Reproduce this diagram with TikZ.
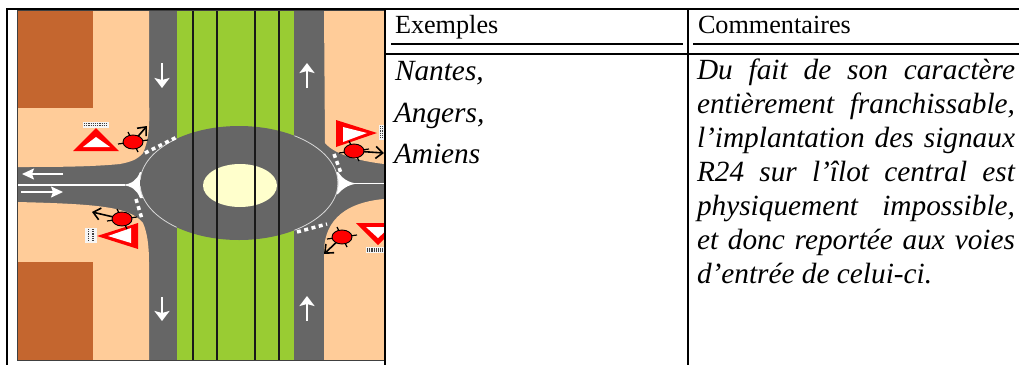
\documentclass[tikz,border=0pt]{standalone}
\usepackage{fontspec}
\setmainfont{Liberation Serif}
\usetikzlibrary{arrows.meta}
\definecolor{beige}{HTML}{FFCC99}
\definecolor{brick}{HTML}{C4662F}
\definecolor{verge}{HTML}{99CC33}
\definecolor{asphalt}{HTML}{666666}
\definecolor{islet}{HTML}{FFFFCC}
\newcommand{\justline}[1]{\hbox to 318bp{\spaceskip=0.2em plus 1fil\relax #1}}
\newcommand{\dashmark}[2]{\draw[yieldline] (#1) -- (#2);}
\newcommand{\walker}[5]{% centre x,y ; tip x,y ; name
  \coordinate (#5c) at (#1,#2);
  \coordinate (#5t) at (#3,#4);
  \draw[tick] (#1-15,#2+2) -- (#1+15,#2-2);
  \draw[tick] (#1-5,#2-10) -- (#1+5,#2+10);
  \draw[walkarrow] (#5c) -- (#5t);
  \fill[red,draw=black,line width=.9bp] (#5c) ellipse [x radius=10bp,y radius=7bp];
}
\newcommand{\yieldsign}[2]{%
  \fill[red] #1 -- cycle;
  \fill[white] #2 -- cycle;
}
\newcommand{\plaqueh}[4]{%
  \fill[white!92!gray] (#1,#2) rectangle (#3,#4);
  \draw[plaquedots] (#1+1,#2*.68+#4*.32) -- (#3-1,#2*.68+#4*.32);
  \draw[plaquedots] (#1+1,#2*.32+#4*.68) -- (#3-1,#2*.32+#4*.68);
}
\newcommand{\plaquev}[4]{%
  \fill[white!92!gray] (#1,#2) rectangle (#3,#4);
  \draw[plaquedots] (#1*.68+#3*.32,#2+1) -- (#1*.68+#3*.32,#4-1);
  \draw[plaquedots] (#1*.32+#3*.68,#2+1) -- (#1*.32+#3*.68,#4-1);
}
\tikzset{
  x=1bp,y=-1bp,
  frame/.style={black,line width=2bp},
  thinframe/.style={black!75,line width=.8bp},
  tree/.style={black!90,line width=1.2bp},
  whitearrow/.style={white,line width=2.8bp,-{Stealth[length=10bp,width=15bp,inset=2bp]}},
  sidearrow/.style={white,line width=1.6bp,-{Stealth[length=12bp,width=11bp,inset=2bp]}},
  yieldline/.style={white,line width=3.5bp,dash pattern=on 4bp off 3.5bp},
  walkarrow/.style={black,line width=1.6bp,-{Straight Barb[length=7bp,width=12bp]}},
  tick/.style={black,line width=1.2bp},
  plaquedots/.style={black!75,line width=1.4bp,dash pattern=on 1.2bp off 1bp},
  cell/.style={font=\fontsize{26.2bp}{30bp}\selectfont,anchor=base west,inner sep=0pt,outer sep=0pt},
  celli/.style={cell,font=\fontsize{29.3bp}{34bp}\selectfont\itshape},
  ring/.style={white!70!gray,line width=.8bp},
}
\begin{document}
\begin{tikzpicture}
\useasboundingbox (0,0) rectangle (1019,365);
\fill[white] (0,0) rectangle (1019,365);
\begin{scope}
\clip (17,10) rectangle (384,360);
\fill[asphalt] (17,10) rectangle (384,360);
\fill[verge] (177,10) rectangle (294,360);
% corners
\fill[beige] (17,10) -- (149,10) -- (149,100) .. controls (150,125) and (149,140) .. (143,153)
  .. controls (137,160) and (130,162) .. (120,164) .. controls (90,167) and (50,167) .. (17,167) -- cycle;
\fill[beige] (17,360) -- (149,360) -- (149,262) .. controls (149,245) and (147,232) .. (143,223)
  .. controls (130,207) and (100,204) .. (17,202) -- cycle;
\fill[beige] (324,10) -- (384,10) -- (384,164) .. controls (360,161) and (335,155) .. (325,143) -- cycle;
\fill[beige] (384,360) -- (324,360) -- (324,255) .. controls (323,225) and (340,203) .. (384,199) -- cycle;
\fill[brick] (17,10) rectangle (93,108);
\fill[brick] (17,262) rectangle (93,360);
% splitters
\draw[white,line width=1.5bp] (17,185) -- (125,185);
\fill[white] (122,185) .. controls (132,184) and (137,180) .. (140,172) -- (146,172) -- (146,198) -- (140,198) .. controls (137,190) and (132,186) .. cycle;
\draw[white,line width=1.5bp] (355,183.5) -- (384,183.5);
\fill[white] (358,183.5) .. controls (348,183) and (342,178) .. (338,172) -- (330,172) -- (330,196) -- (338,194) .. controls (342,189) and (348,184.5) .. cycle;
% roundabout
\fill[asphalt] (239,183) ellipse [x radius=99bp,y radius=57bp];
\draw[ring] plot[domain=129:177,samples=30] ({239+99*cos(\x)},{183-57*sin(\x)});
\draw[ring] plot[domain=183:231,samples=30] ({239+99*cos(\x)},{183-57*sin(\x)});
\draw[ring] plot[domain=56:-3,samples=30] ({239+99*cos(\x)},{183-57*sin(\x)});
\draw[ring] plot[domain=-56:3,samples=30] ({239+99*cos(\x)},{183-57*sin(\x)});
\fill[islet] (240,185.5) ellipse [x radius=37bp,y radius=21.5bp];
% tram lines
\foreach \tx in {193,217,255,279} \draw[tree] (\tx,10) -- (\tx,360);
% give-way marks
\coordinate (ya) at (145,153); \coordinate (yb) at (177,137);
\dashmark{ya}{yb}
\coordinate (yc) at (136,199); \coordinate (yd) at (142,219);
\dashmark{yc}{yd}
\coordinate (ye) at (334,154); \coordinate (yf) at (341,173);
\dashmark{ye}{yf}
\coordinate (yg) at (297,232); \coordinate (yh) at (327,224);
\dashmark{yg}{yh}
% arrows
\coordinate (a1) at (162,63); \coordinate (a2) at (162,88);
\draw[whitearrow] (a1) -- (a2);
\coordinate (a3) at (162,297); \coordinate (a4) at (162,321);
\draw[whitearrow] (a3) -- (a4);
\coordinate (a5) at (307,88); \coordinate (a6) at (307,63);
\draw[whitearrow] (a5) -- (a6);
\coordinate (a7) at (307,321); \coordinate (a8) at (307,296);
\draw[whitearrow] (a7) -- (a8);
\coordinate (a9) at (63,174); \coordinate (a10) at (22,174);
\draw[sidearrow] (a9) -- (a10);
\coordinate (a11) at (21,192); \coordinate (a12) at (63,192);
\draw[sidearrow] (a11) -- (a12);
% signs
\yieldsign{(73,151) -- (119,151) -- (96,128)}{(83,147) -- (110,147) -- (96,137)}
\plaqueh{83}{122}{109}{127.5}
\yieldsign{(97,236) -- (138,223) -- (138,249)}{(108,236) -- (131,228) -- (131,243)}
\plaquev{85}{228}{96.5}{243}
\yieldsign{(336,120) -- (336,147) -- (377,133)}{(343,127) -- (343,142) -- (367,133)}
\plaquev{379}{125}{384}{140}
\yieldsign{(356,223) -- (400,223) -- (378,245)}{(366,227) -- (390,227) -- (378,238)}
\plaqueh{366}{247}{384}{253}
% people
\walker{133}{142}{147}{126}{pa}
\walker{122}{219}{92}{212}{pb}
\walker{354}{151}{384}{153}{pc}
\walker{342}{237}{324}{254}{pd}
\end{scope}
\draw[thinframe] (17,10) rectangle (384,360);
% table rules
\draw[frame] (6.5,9) -- (1019,9);
\draw[frame] (7,8) -- (7,365);
\draw[frame] (385,8) -- (385,365);
\draw[frame] (688,8) -- (688,365);
\draw[frame] (385,53.5) -- (1019,53.5);
\draw[frame] (391,44) -- (683,44);
\draw[frame] (693,44) -- (1019,44);
% text
\node[cell] (hex) at (395,33) {Exemples};
\node[cell] (hcom) at (698,33) {Commentaires};
\node[celli] (v1) at (395,80) {Nantes,};
\node[celli] (v2) at (394,122) {Angers,};
\node[celli] (v3) at (394,163) {Amiens};
\node[celli] (c1) at (697,79) {\justline{Du fait de son caractère}};
\node[celli] (c2) at (697,113) {\justline{entièrement franchissable,}};
\node[celli] (c3) at (697,147) {\justline{l’implantation des signaux}};
\node[celli] (c4) at (697,181) {\justline{R24 sur l’îlot central est}};
\node[celli] (c5) at (697,215) {\justline{physiquement impossible,}};
\node[celli] (c6) at (697,249) {\justline{et donc reportée aux voies}};
\node[celli] (c7) at (697,283) {d’entrée de celui-ci.};
\end{tikzpicture}
\end{document}
